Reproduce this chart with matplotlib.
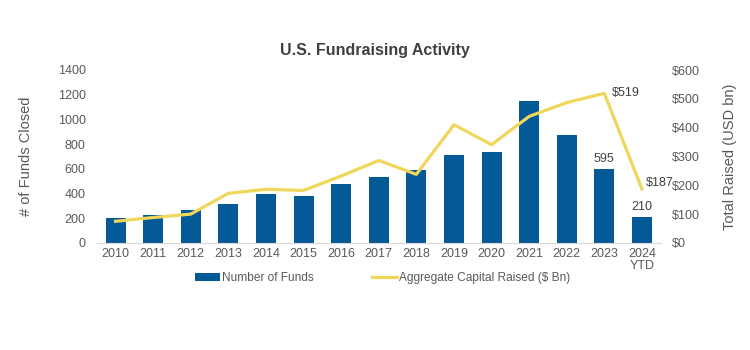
import matplotlib

matplotlib.use("Agg")
import matplotlib.pyplot as plt
from matplotlib.lines import Line2D
from matplotlib.patches import Patch

plt.rcParams["font.family"] = ["Liberation Sans", "DejaVu Sans"]

YEARS = ["2010", "2011", "2012", "2013", "2014", "2015", "2016", "2017",
         "2018", "2019", "2020", "2021", "2022", "2023", "2024\nYTD"]
FUNDS_CLOSED = [201, 228, 268, 314, 400, 381, 475, 534,
                592, 708, 740, 1153, 877, 595, 210]
CAPITAL_RAISED = [75, 88, 100, 172, 186, 182, 232, 286,
                  238, 410, 341, 439, 487, 519, 187]

BAR_COLOR = "#045A96"
LINE_COLOR = "#F0D65A"
TEXT_COLOR = "#404040"
TICK_COLOR = "#595959"

fig = plt.figure(figsize=(7.5, 3.5), dpi=100)
ax = fig.add_axes([0.129, 0.306, 0.752, 0.494])
ax2 = ax.twinx()

x = list(range(len(YEARS)))
ax.bar(x, FUNDS_CLOSED, width=0.53, color=BAR_COLOR, zorder=2)
ax2.plot(x, CAPITAL_RAISED, color=LINE_COLOR, linewidth=2.3, zorder=3)

ax.set_xlim(-0.5, len(YEARS) - 0.5)
ax.set_ylim(0, 1400)
ax.set_yticks(range(0, 1401, 200))
ax2.set_ylim(0, 600)
ax2.set_yticks(range(0, 601, 100))
ax2.set_yticklabels([f"${v}" for v in range(0, 601, 100)])

ax.set_xticks(x)
ax.set_xticklabels(YEARS, linespacing=1.0)

for axis in (ax, ax2):
    for side in ("top", "left", "right"):
        axis.spines[side].set_visible(False)
    axis.spines["bottom"].set_color("#D9D9D9")
    axis.tick_params(length=0, labelsize=9, colors=TICK_COLOR, pad=4)
ax2.spines["bottom"].set_visible(False)
ax.tick_params(axis="y", pad=8)
ax2.tick_params(axis="y", pad=8)

ax.set_ylabel("# of Funds Closed", fontsize=10.5, color=TICK_COLOR, labelpad=18)
ax2.set_ylabel("Total Raised (USD bn)", fontsize=10.5, color=TICK_COLOR, labelpad=17)

# 只标注最近两年的数值
for i in (13, 14):
    ax.text(i, FUNDS_CLOSED[i] + 35, str(FUNDS_CLOSED[i]), ha="center", va="bottom",
            fontsize=9, color=TEXT_COLOR)
ax2.text(13 + 0.2, CAPITAL_RAISED[13], f"${CAPITAL_RAISED[13]}", ha="left",
         va="center", fontsize=9, color=TEXT_COLOR)
ax2.text(14 + 0.1, CAPITAL_RAISED[14] + 20, f"${CAPITAL_RAISED[14]}", ha="left",
         va="center", fontsize=9, color=TEXT_COLOR)

fig.text(0.5, 0.855, "U.S. Fundraising Activity", ha="center", va="center",
         fontsize=11.5, fontweight="bold", color=TEXT_COLOR)

handles = [
    Patch(facecolor=BAR_COLOR, edgecolor="none"),
    Line2D([0], [0], color=LINE_COLOR, linewidth=2.3),
]
fig.legend(handles, ["Number of Funds", "Aggregate Capital Raised ($ Bn)"],
           loc="center", bbox_to_anchor=(0.51, 0.205), ncol=2, frameon=False,
           fontsize=8.6, labelcolor=TICK_COLOR, handlelength=2.1, handleheight=0.55,
           handletextpad=0.15, columnspacing=4.9)

fig.savefig("out.png", dpi=100)
plt.close(fig)
